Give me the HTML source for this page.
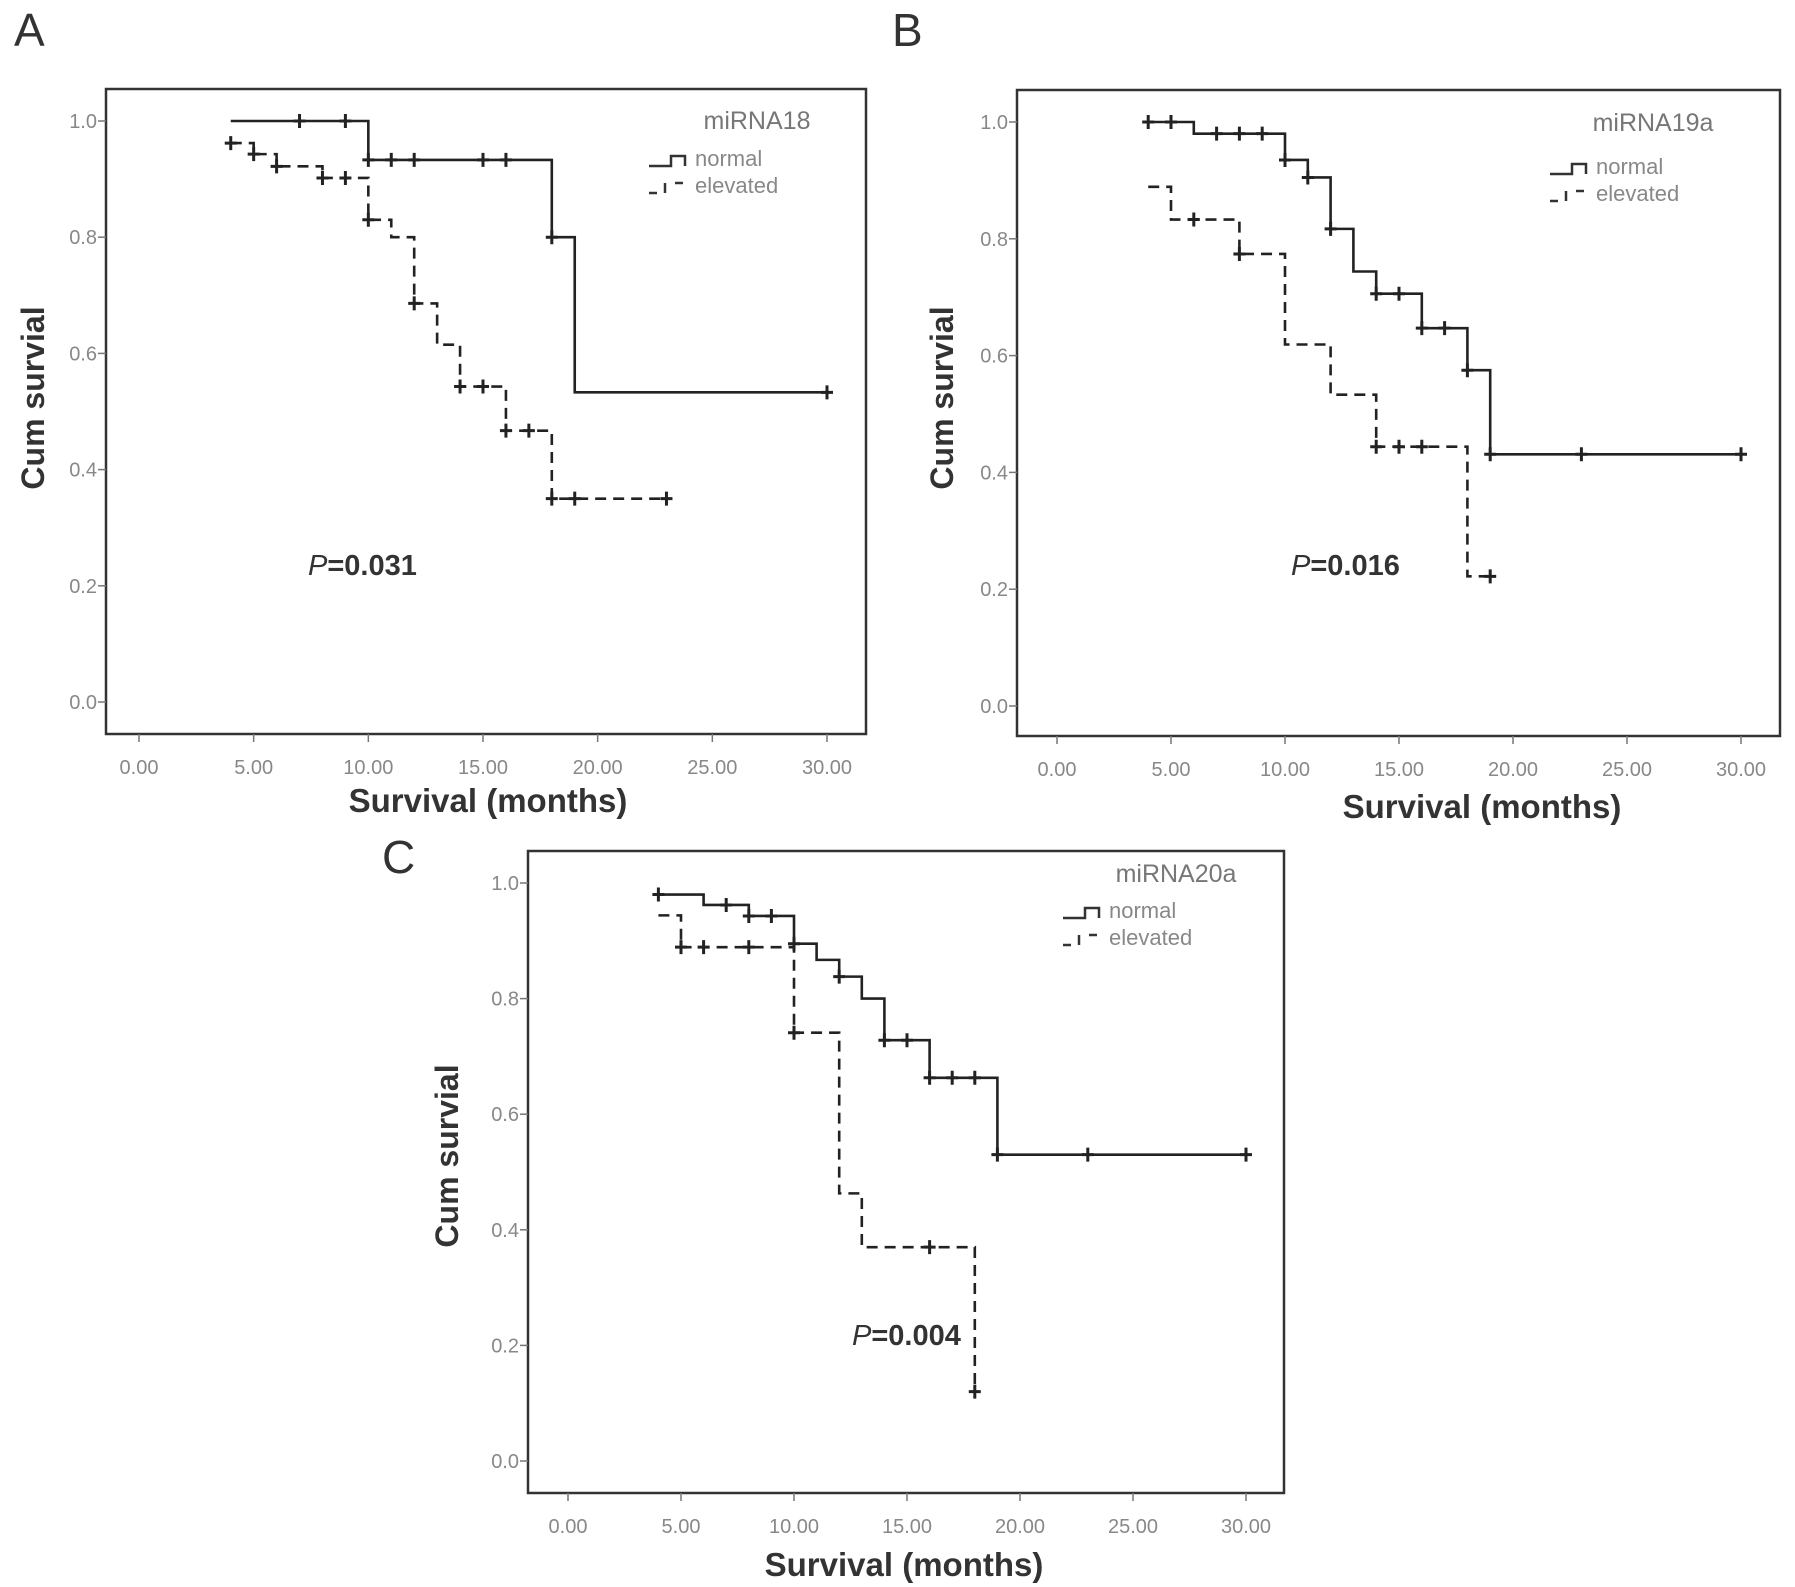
<!DOCTYPE html>
<html><head><meta charset="utf-8">
<style>
html,body{margin:0;padding:0;background:#fff;}
svg{display:block;font-family:"Liberation Sans",Arial,sans-serif;}
</style></head>
<body>
<svg id="fig" width="1795" height="1587" viewBox="0 0 1795 1587" xmlns="http://www.w3.org/2000/svg"></svg>
<script>
// ---- data ----
const xTicks = [0,5,10,15,20,25,30];
const xTickLabels = ["0.00","5.00","10.00","15.00","20.00","25.00","30.00"];
const yTicks = [0,0.2,0.4,0.6,0.8,1.0];
const yTickLabels = ["0.0","0.2","0.4","0.6","0.8","1.0"];

const aNormalTimes = [4,10,18,19];
const aNormalSurv = [1.0,0.933,0.80,0.533];
const aNormalEnd = 30;
const aNormalCensor = [7,9,10,11,12,15,16,18,30];
const aElevTimes = [4,5,6,8,10,11,12,13,14,16,18];
const aElevSurv = [0.962,0.943,0.922,0.902,0.83,0.80,0.686,0.615,0.543,0.467,0.35];
const aElevEnd = 23;
const aElevCensor = [4,5,6,8,9,10,12,14,15,16,17,18,19,23];

const bNormalTimes = [4,6,10,11,12,13,14,16,18,19];
const bNormalSurv = [1.0,0.98,0.935,0.905,0.817,0.744,0.706,0.647,0.575,0.431];
const bNormalEnd = 30;
const bNormalCensor = [4,5,7,8,9,10,11,12,14,15,16,17,18,19,23,30];
const bElevTimes = [4,5,8,10,12,14,18];
const bElevSurv = [0.889,0.833,0.774,0.619,0.533,0.444,0.222];
const bElevEnd = 19;
const bElevCensor = [6,8,14,15,16,19];

const cNormalTimes = [4,6,8,10,11,12,13,14,16,19];
const cNormalSurv = [0.98,0.962,0.943,0.895,0.867,0.838,0.80,0.728,0.663,0.53];
const cNormalEnd = 30;
const cNormalCensor = [4,7,8,9,10,12,14,15,16,17,18,19,23,30];
const cElevTimes = [4,5,10,12,13,18];
const cElevSurv = [0.944,0.889,0.741,0.463,0.37,0.12];
const cElevEnd = 18;
const cElevCensor = [5,6,8,10,16,18];

const svg = document.getElementById('fig');
const NS = 'http://www.w3.org/2000/svg';
function mk(tag, attrs, parent){
  const e = document.createElementNS(NS, tag);
  for (const k in attrs) e.setAttribute(k, attrs[k]);
  (parent||svg).appendChild(e);
  return e;
}
function txt(s, attrs, parent){ const e = mk('text', attrs, parent); e.textContent = s; return e; }

function panel(cfg){
  const g = mk('g', {});
  
  
  const sx = v => cfg.x0 + (cfg.x30 - cfg.x0) * v / 30;
  const sy = v => cfg.y0 + (cfg.y1 - cfg.y0) * v;
  const lbl = txt(cfg.letter, {x:cfg.lx, y:cfg.ly, 'font-size':46, fill:'#333'}, g);
  
  
  const fr = mk('rect', {x:cfg.fx, y:cfg.fy, width:cfg.fw, height:cfg.fh, fill:'none', stroke:'#333', 'stroke-width':2.5}, g);
  
  
  yTicks.forEach((v,i)=>{
    mk('line', {x1:cfg.fx-8, x2:cfg.fx, y1:sy(v), y2:sy(v), stroke:'#777', 'stroke-width':1.5}, g);
    const t = txt(yTickLabels[i], {x:cfg.fx-9, y:sy(v)+7, 'font-size':20, fill:'#888', 'text-anchor':'end'}, g);
    
    
  });
  xTicks.forEach((v,i)=>{
    mk('line', {x1:sx(v), x2:sx(v), y1:cfg.fy+cfg.fh, y2:cfg.fy+cfg.fh+8, stroke:'#777', 'stroke-width':1.5}, g);
    const t = txt(xTickLabels[i], {x:sx(v), y:cfg.fy+cfg.fh+40, 'font-size':20, fill:'#888', 'text-anchor':'middle'}, g);
    
    
  });
  const yt = txt('Cum survial', {x:0, y:0, 'font-size':32, 'font-weight':'bold', fill:'#333', 'text-anchor':'middle', transform:`translate(${cfg.ytx},${cfg.yty}) rotate(-90)`}, g);
  
  
  const xt = txt('Survival (months)', {x:cfg.xtx, y:cfg.xty, 'font-size':33, 'font-weight':'bold', fill:'#333', 'text-anchor':'middle'}, g);
  
  
  const ti = txt(cfg.title, {x:cfg.tx, y:cfg.ty, 'font-size':25, fill:'#777', 'text-anchor':'middle'}, g);
  
  
  const L = cfg.legX, LY1 = cfg.legY1, LY2 = cfg.legY2;
  const l1 = mk('path', {d:`M${L} ${LY1+4} h22 v-10 h14 v10`, fill:'none', stroke:'#333', 'stroke-width':2.5}, g);
  
  
  const t1 = txt('normal', {x:L+46, y:LY1+4, 'font-size':22, fill:'#888'}, g);
  
  
  const l2 = mk('path', {d:`M${L} ${LY2+4} h8 M${L+16} ${LY2+4} v-10 M${L+26} ${LY2-6} h8`, fill:'none', stroke:'#333', 'stroke-width':2.5}, g);
  
  
  const t2 = txt('elevated', {x:L+46, y:LY2+4, 'font-size':22, fill:'#888'}, g);
  
  
  const p = mk('text', {x:cfg.px, y:cfg.py, 'font-size':29, 'font-weight':'bold', fill:'#333'}, g);
  
  
  const pi = mk('tspan', {'font-style':'italic', 'font-weight':'normal'}, p); pi.textContent = 'P';
  const pr = mk('tspan', {}, p); pr.textContent = '=' + cfg.pval;
  function curve(times, surv, end, censor, dashed, name){
    let d = `M${sx(times[0])} ${sy(surv[0])}`;
    for (let i=1;i<times.length;i++){
      d += ` H${sx(times[i])} V${sy(surv[i])}`;
    }
    d += ` H${sx(end)}`;
    const attrs = {d:d, fill:'none', stroke:'#222', 'stroke-width':2.6};
    if (dashed) attrs['stroke-dasharray'] = '11 7';
    const path = mk('path', attrs, g);
    
    
    censor.forEach(t=>{
      let s = surv[0];
      for (let i=0;i<times.length;i++) if (times[i] <= t) s = surv[i];
      const c = mk('path', {d:`M${sx(t)} ${sy(s)-7} V${sy(s)+7} M${sx(t)-6} ${sy(s)} H${sx(t)+6}`, stroke:'#222', 'stroke-width':3}, g);
      
      
    });
  }
  curve(cfg.nT, cfg.nS, cfg.nE, cfg.nC, false, 'normal');
  curve(cfg.eT, cfg.eS, cfg.eE, cfg.eC, true, 'elevated');
}

panel({name:'panel-a-mirna18', letter:'A', lx:14, ly:46,
  fx:106, fy:89, fw:760, fh:645, x0:139, x30:827, y0:702, y1:121,
  ytx:44, yty:398, xtx:488, xty:812, title:'miRNA18', tx:757, ty:129,
  legX:649, legY1:162, legY2:189, px:308, py:575, pval:'0.031',
  nT:aNormalTimes, nS:aNormalSurv, nE:aNormalEnd, nC:aNormalCensor,
  eT:aElevTimes, eS:aElevSurv, eE:aElevEnd, eC:aElevCensor});
panel({name:'panel-b-mirna19a', letter:'B', lx:892, ly:46,
  fx:1017, fy:90, fw:763, fh:646, x0:1057, x30:1741, y0:706, y1:122,
  ytx:953, yty:398, xtx:1482, xty:818, title:'miRNA19a', tx:1653, ty:131,
  legX:1550, legY1:170, legY2:197, px:1291, py:575, pval:'0.016',
  nT:bNormalTimes, nS:bNormalSurv, nE:bNormalEnd, nC:bNormalCensor,
  eT:bElevTimes, eS:bElevSurv, eE:bElevEnd, eC:bElevCensor});
panel({name:'panel-c-mirna20a', letter:'C', lx:382, ly:873,
  fx:528, fy:851, fw:756, fh:642, x0:568, x30:1246, y0:1461, y1:883,
  ytx:458, yty:1156, xtx:904, xty:1576, title:'miRNA20a', tx:1176, ty:882,
  legX:1063, legY1:914, legY2:941, px:852, py:1345, pval:'0.004',
  nT:cNormalTimes, nS:cNormalSurv, nE:cNormalEnd, nC:cNormalCensor,
  eT:cElevTimes, eS:cElevSurv, eE:cElevEnd, eC:cElevCensor});
</script>
</body></html>
